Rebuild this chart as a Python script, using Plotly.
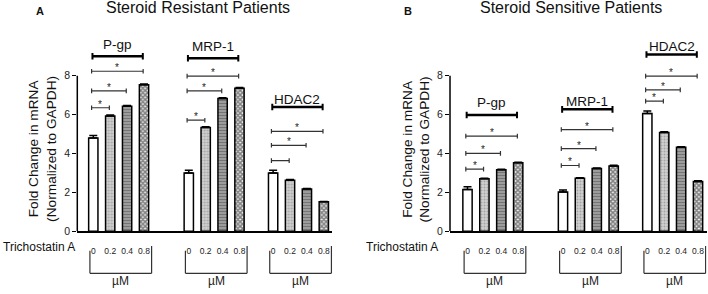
import plotly.graph_objects as go

# ---------------- data ----------------
doses = ["0", "0.2", "0.4", "0.8"]
genes = ["P-gp", "MRP-1", "HDAC2"]

resistant_pgp = [4.8, 5.93, 6.43, 7.53]
resistant_mrp1 = [2.99, 5.33, 6.83, 7.35]
resistant_hdac2 = [2.99, 2.62, 2.17, 1.51]
resistant_pgp_err = [0.12, 0.05, 0.04, 0.04]
resistant_mrp1_err = [0.15, 0.04, 0.04, 0.04]
resistant_hdac2_err = [0.15, 0.04, 0.02, 0.02]

sensitive_pgp = [2.15, 2.7, 3.16, 3.52]
sensitive_mrp1 = [2.02, 2.72, 3.22, 3.36]
sensitive_hdac2 = [6.05, 5.08, 4.32, 2.56]
sensitive_pgp_err = [0.13, 0.03, 0.03, 0.03]
sensitive_mrp1_err = [0.1, 0.03, 0.03, 0.03]
sensitive_hdac2_err = [0.13, 0.03, 0.03, 0.03]

# group brackets (gene index, level)
resistant_group_brackets = [(0, 9.0), (1, 8.9), (2, 6.39)]
sensitive_group_brackets = [(0, 5.98), (1, 6.27), (2, 9.09)]
# significance brackets (gene index, from dose, to dose, level, star)
resistant_sig = [(0, 0, 1, 6.35, True), (0, 0, 2, 7.22, True), (0, 0, 3, 8.23, True),
                 (1, 0, 1, 5.71, True), (1, 0, 2, 7.22, True), (1, 0, 3, 7.98, True),
                 (2, 0, 1, 3.63, False), (2, 0, 2, 4.42, True), (2, 0, 3, 5.14, True)]
sensitive_sig = [(0, 0, 1, 3.19, True), (0, 0, 2, 4.0, True), (0, 0, 3, 4.89, True),
                 (1, 0, 1, 3.38, True), (1, 0, 2, 4.25, True), (1, 0, 3, 5.23, True),
                 (2, 0, 1, 6.69, True), (2, 0, 2, 7.27, True), (2, 0, 3, 7.98, True)]

# ---------------- layout constants ----------------
W, H = 708, 294
FONT = "Liberation Sans, Arial, sans-serif"
GROUP_OFFSETS = [0, 5.65, 10.64]
UNIT = 16.9          # px per bar step
ZERO_Y = 236         # px of y = 0
PX_PER_Y = 19.84
label_gaps = {"A": [6.3, 6.0, 1.8], "B": [6.6, 2.0, 2.4]}

def px(x):
    return x / W

def py(y):
    return 1 - y / H

panels = [
    dict(name="A", title="Steroid Resistant Patients", origin=93.3, r0=-0.947, r1=14.15,
         vals=[resistant_pgp, resistant_mrp1, resistant_hdac2],
         errs=[resistant_pgp_err, resistant_mrp1_err, resistant_hdac2_err],
         gb=resistant_group_brackets, sig=resistant_sig,
         title_x=197.5, letter_x=40, ytitle_x=42.5, trich_x=38.8),
    dict(name="B", title="Steroid Sensitive Patients", origin=467.5, r0=-1.035, r1=14.15,
         vals=[sensitive_pgp, sensitive_mrp1, sensitive_hdac2],
         errs=[sensitive_pgp_err, sensitive_mrp1_err, sensitive_hdac2_err],
         gb=sensitive_group_brackets, sig=sensitive_sig,
         title_x=571, letter_x=407.7, ytitle_x=416, trich_x=401.5),
]

bar_styles = [
    dict(color="white", pattern=None),
    dict(color="#c4c4c4", pattern=dict(shape=".", fgcolor="#777777", bgcolor="#d0d0d0", size=3, solidity=0.35)),
    dict(color="#8f8f8f", pattern=dict(shape="-", fgcolor="#4a4a4a", bgcolor="#a0a0a0", size=3, solidity=0.4)),
    dict(color="white", pattern=dict(shape="x", fgcolor="#111111", bgcolor="#f0f0f0", size=3.2, solidity=0.72)),
]

fig = go.Figure()
shapes = []
annotations = []
y_top = ZERO_Y / PX_PER_Y

for pi, p in enumerate(panels):
    xa = "x" if pi == 0 else "x2"
    ya = "y" if pi == 0 else "y2"
    xkey = "xaxis" if pi == 0 else "xaxis2"
    ykey = "yaxis" if pi == 0 else "yaxis2"
    d0 = (p["origin"] + p["r0"] * UNIT) / W
    d1 = (p["origin"] + p["r1"] * UNIT) / W

    for di in range(4):
        xs = [GROUP_OFFSETS[g] + di for g in range(3)]
        ys = [p["vals"][g][di] for g in range(3)]
        es = [p["errs"][g][di] for g in range(3)]
        st = bar_styles[di]
        marker = dict(color=st["color"], line=dict(color="black", width=1.5))
        if st["pattern"]:
            marker["pattern"] = st["pattern"]
        fig.add_trace(go.Bar(
            x=xs, y=ys, width=0.55, xaxis=xa, yaxis=ya, marker=marker,
            error_y=dict(type="data", symmetric=False, array=es, arrayminus=[0, 0, 0],
                         color="black", thickness=1.5, width=4),
            showlegend=False, hoverinfo="skip"))

    tickvals = [GROUP_OFFSETS[g] + di for g in range(3) for di in range(4)]
    ticktext = [doses[di] for g in range(3) for di in range(4)]
    fig.update_layout(**{
        xkey: dict(domain=[d0, d1], range=[p["r0"], p["r1"]], anchor=ya,
                   showline=True, linecolor="black", linewidth=1.5,
                   showgrid=False, zeroline=False, tickvals=tickvals, ticktext=ticktext,
                   ticks="", ticklabelstandoff=11,
                   tickfont=dict(size=8.5, color="#222", family=FONT)),
        ykey: dict(domain=[1 - ZERO_Y / H, 1], range=[0, y_top], anchor=xa,
                   showline=False, showgrid=False, zeroline=False,
                   tickvals=[0, 2, 4, 6, 8], ticks="outside", ticklen=4, tickwidth=1.3,
                   tickcolor="black", tickfont=dict(size=10.5, color="#222", family=FONT)),
    })

    # y-axis spine only up to 8
    shapes.append(dict(type="line", xref=xa + " domain", yref=ya, x0=0, x1=0, y0=0, y1=8,
                       line=dict(color="black", width=1.5)))

    # group brackets with labels
    for (g, lvl), gap in zip(p["gb"], label_gaps[p["name"]]):
        xa0 = GROUP_OFFSETS[g] - 0.05
        xa1 = GROUP_OFFSETS[g] + 3 - 0.07
        shapes.append(dict(type="line", xref=xa, yref=ya, x0=xa0, x1=xa1, y0=lvl, y1=lvl,
                           line=dict(color="black", width=2.5)))
        for xe in (xa0, xa1):
            shapes.append(dict(type="line", xref=xa, yref=ya, x0=xe, x1=xe,
                               y0=lvl - 0.17, y1=lvl + 0.17, line=dict(color="black", width=2)))
        annotations.append(dict(x=(xa0 + xa1) / 2, y=lvl, xref=xa, yref=ya, text=genes[g],
                                showarrow=False, xanchor="center", yanchor="bottom",
                                yshift=gap - 3.9,
                                font=dict(size=13.5, color="#111", family=FONT)))

    # significance brackets
    for g, a, b, lvl, star in p["sig"]:
        x0 = GROUP_OFFSETS[g] + a - 0.1
        x1 = GROUP_OFFSETS[g] + b - 0.05
        shapes.append(dict(type="line", xref=xa, yref=ya, x0=x0, x1=x1, y0=lvl, y1=lvl,
                           line=dict(color="#333", width=1.2)))
        for xe in (x0, x1):
            shapes.append(dict(type="line", xref=xa, yref=ya, x0=xe, x1=xe,
                               y0=lvl - 0.12, y1=lvl + 0.12, line=dict(color="#333", width=1.2)))
        if star:
            annotations.append(dict(x=(x0 + x1) / 2, y=lvl, xref=xa, yref=ya, text="*",
                                    showarrow=False, xanchor="center", yanchor="bottom",
                                    yshift=-4, font=dict(size=10, color="#222", family=FONT)))

    # µM brackets below dose labels
    for g in range(3):
        bx0 = GROUP_OFFSETS[g] - 0.2
        bx1 = GROUP_OFFSETS[g] + 3 + 0.45
        ln = dict(color="#333", width=1.2)
        shapes.append(dict(type="line", xref=xa, yref="paper", x0=bx0, x1=bx1,
                           y0=py(279), y1=py(279), line=ln))
        shapes.append(dict(type="line", xref=xa, yref="paper", x0=bx0, x1=bx0,
                           y0=py(279), y1=py(256), line=ln))
        shapes.append(dict(type="line", xref=xa, yref="paper", x0=bx1, x1=bx1,
                           y0=py(279), y1=py(251), line=ln))
        annotations.append(dict(x=(bx0 + bx1) / 2, y=py(286.7), xref=xa, yref="paper",
                                text="µM", showarrow=False, xanchor="center", yanchor="middle",
                                font=dict(size=12, color="#222", family=FONT)))

    # texts
    annotations.append(dict(x=px(p["title_x"]), y=py(7.5), xref="paper", yref="paper",
                            text=p["title"], showarrow=False, xanchor="center", yanchor="middle",
                            font=dict(size=16, color="#111", family=FONT)))
    annotations.append(dict(x=px(p["letter_x"]), y=py(11), xref="paper", yref="paper",
                            text="<b>" + p["name"] + "</b>", showarrow=False,
                            xanchor="center", yanchor="middle",
                            font=dict(size=11, color="#111", family=FONT)))
    annotations.append(dict(x=px(p["ytitle_x"]), y=py(152.5), xref="paper", yref="paper",
                            text="Fold Change in mRNA<br>(Normalized to GAPDH)", textangle=-90,
                            showarrow=False, xanchor="center", yanchor="middle",
                            font=dict(size=13.7, color="#111", family=FONT)))
    annotations.append(dict(x=px(p["trich_x"]), y=py(252.3), xref="paper", yref="paper",
                            text="Trichostatin A", showarrow=False,
                            xanchor="center", yanchor="middle",
                            font=dict(size=12, color="#111", family=FONT)))

fig.update_layout(width=W, height=H, margin=dict(l=0, r=0, t=0, b=0),
                  paper_bgcolor="white", plot_bgcolor="white", barmode="overlay",
                  shapes=shapes, annotations=annotations, font=dict(family=FONT))
fig.write_html("out.html", config={"displayModeBar": False},
               post_script="document.body.style.margin='0px';")
